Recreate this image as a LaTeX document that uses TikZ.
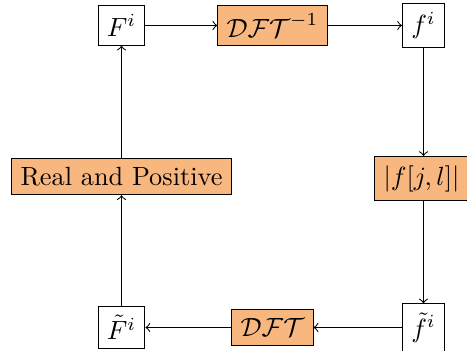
\documentclass[tikz,border=0pt]{standalone}
\definecolor{opfill}{RGB}{249,183,128}
\begin{document}
\begin{tikzpicture}[x=0.38pt, y=-0.38pt,
  plainbox/.style={draw, fill=white},
  opbox/.style={draw, fill=opfill},
  flow/.style={->}]
  \useasboundingbox (0,0) rectangle (467,351);
  % top row
  \node[plainbox] (F)    at (121.5,25.5) {$F^i$};
  \node[opbox]    (idft) at (272.5,25.5) {$\mathcal{DFT}^{-1}$};
  \node[plainbox] (f)    at (423.5,25.5) {$f^i$};
  % middle row
  \node[opbox]    (rp)   at (121.5,176.5) {Real and Positive};
  \node[opbox]    (absf) at (421.5,178.5) {$|f[j,l]|$};
  % bottom row
  \node[plainbox] (tF)   at (121.5,327.5) {$\tilde{F}^i$};
  \node[opbox]    (dft)  at (272.5,327.5) {$\mathcal{DFT}$};
  \node[plainbox] (tf)   at (423.5,327.5) {$\tilde{f}^i$};
  % cycle of operations
  \draw[flow] (F) -- (idft);
  \draw[flow] (idft) -- (f);
  \draw[flow] (f) -- (f |- absf.north);
  \draw[flow] (absf.south -| tf) -- (tf);
  \draw[flow] (tf) -- (dft);
  \draw[flow] (dft) -- (tF);
  \draw[flow] (tF) -- (rp);
  \draw[flow] (rp) -- (F);
\end{tikzpicture}
\end{document}
